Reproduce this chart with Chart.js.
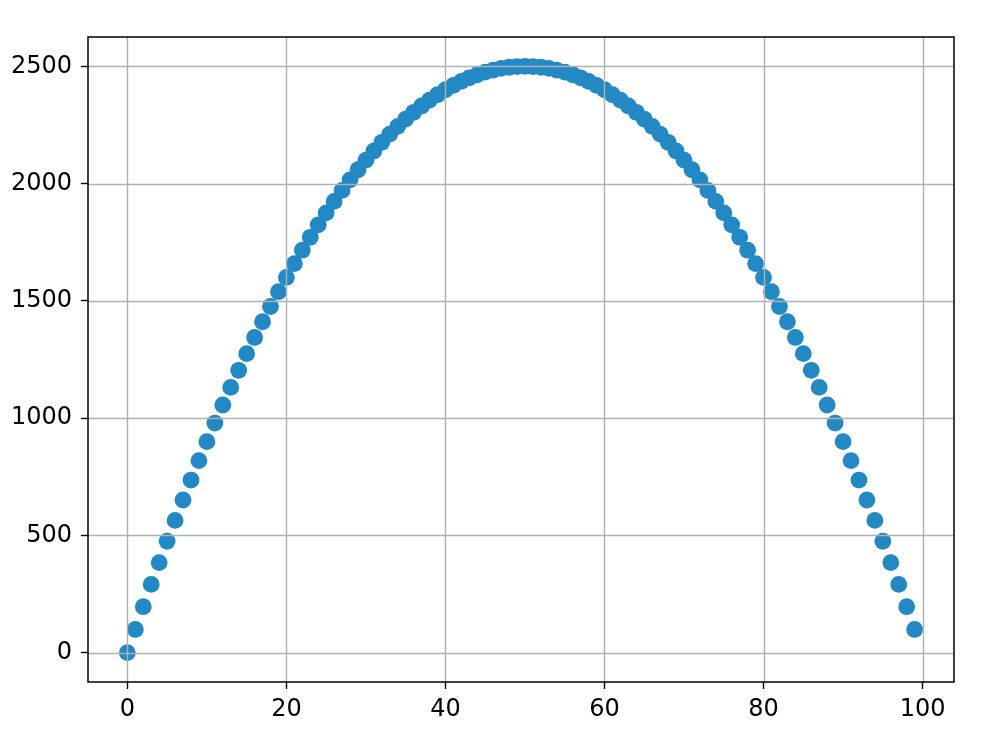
<!DOCTYPE html>
<html>
<head>
<meta charset="utf-8">
<script src="https://cdn.jsdelivr.net/npm/chart.js@4"></script>
<style>
  html, body { margin: 0; padding: 0; background: #fff; }
  #wrap { width: 1000px; height: 752px; }
</style>
</head>
<body>
<div id="wrap"><canvas id="scatterChart"></canvas></div>
<script>
// x positions of the points
const xValues = [
  0, 1, 2, 3, 4, 5, 6, 7, 8, 9, 10, 11, 12, 13, 14, 15, 16, 17, 18, 19,
  20, 21, 22, 23, 24, 25, 26, 27, 28, 29, 30, 31, 32, 33, 34, 35, 36, 37, 38, 39,
  40, 41, 42, 43, 44, 45, 46, 47, 48, 49, 50, 51, 52, 53, 54, 55, 56, 57, 58, 59,
  60, 61, 62, 63, 64, 65, 66, 67, 68, 69, 70, 71, 72, 73, 74, 75, 76, 77, 78, 79,
  80, 81, 82, 83, 84, 85, 86, 87, 88, 89, 90, 91, 92, 93, 94, 95, 96, 97, 98, 99
];

// y values
const yValues = [
  0, 99, 196, 291, 384, 475, 564, 651, 736, 819,
  900, 979, 1056, 1131, 1204, 1275, 1344, 1411, 1476, 1539,
  1600, 1659, 1716, 1771, 1824, 1875, 1924, 1971, 2016, 2059,
  2100, 2139, 2176, 2211, 2244, 2275, 2304, 2331, 2356, 2379,
  2400, 2419, 2436, 2451, 2464, 2475, 2484, 2491, 2496, 2499,
  2500, 2499, 2496, 2491, 2484, 2475, 2464, 2451, 2436, 2419,
  2400, 2379, 2356, 2331, 2304, 2275, 2244, 2211, 2176, 2139,
  2100, 2059, 2016, 1971, 1924, 1875, 1824, 1771, 1716, 1659,
  1600, 1539, 1476, 1411, 1344, 1275, 1204, 1131, 1056, 979,
  900, 819, 736, 651, 564, 475, 384, 291, 196, 99
];

const xTicks = [0, 20, 40, 60, 80, 100];
const yTicks = [0, 500, 1000, 1500, 2000, 2500];

const points = xValues.map((x, i) => ({ x: x, y: yValues[i] }));

// matplotlib draws the grid on top of the markers, so draw it after the datasets
const gridOnTop = {
  id: "gridOnTop",
  afterDatasetsDraw(chart) {
    const ctx = chart.ctx;
    const area = chart.chartArea;
    const xs = chart.scales.x;
    const ys = chart.scales.y;
    ctx.save();
    ctx.strokeStyle = "#b0b0b0";
    ctx.lineWidth = 1.4;
    ctx.beginPath();
    xs.ticks.forEach((t) => {
      const px = Math.round(xs.getPixelForValue(t.value)) + 0.5;
      ctx.moveTo(px, area.top);
      ctx.lineTo(px, area.bottom);
    });
    ys.ticks.forEach((t) => {
      const py = Math.round(ys.getPixelForValue(t.value)) + 0.5;
      ctx.moveTo(area.left, py);
      ctx.lineTo(area.right, py);
    });
    ctx.stroke();
    // frame round the plot
    ctx.strokeStyle = "#000";
    ctx.lineWidth = 1.5;
    ctx.strokeRect(area.left, area.top, area.right - area.left, area.bottom - area.top);
    ctx.restore();
  },
};

const tickFont = { family: "'DejaVu Sans', sans-serif", size: 24 };

new Chart(document.querySelector("#scatterChart"), {
  type: "scatter",
  data: {
    datasets: [
      {
        data: points,
        backgroundColor: "rgb(35, 137, 196)",
        borderWidth: 0,
        pointRadius: 8.4,
        pointHoverRadius: 8.4,
      },
    ],
  },
  options: {
    responsive: true,
    maintainAspectRatio: false,
    animation: false,
    layout: { padding: { top: 37, right: 46, left: 0, bottom: 0 } },
    plugins: { legend: { display: false }, tooltip: { enabled: false } },
    scales: {
      x: {
        type: "linear",
        min: -4.95,
        max: 103.95,
        afterBuildTicks: (scale) => {
          scale.ticks = xTicks.map((v) => ({ value: v }));
        },
        afterFit: (scale) => {
          scale.height = 70;
        },
        grid: {
          drawOnChartArea: false,
          tickLength: 7,
          tickColor: "#000",
          tickWidth: 1.4,
        },
        border: { display: false },
        ticks: {
          color: "#000",
          font: tickFont,
          padding: 6,
          maxRotation: 0,
          callback: (v) => String(v),
        },
      },
      y: {
        type: "linear",
        min: -125,
        max: 2625,
        afterBuildTicks: (scale) => {
          scale.ticks = yTicks.map((v) => ({ value: v }));
        },
        afterFit: (scale) => {
          scale.width = 88;
        },
        grid: {
          drawOnChartArea: false,
          tickLength: 7,
          tickColor: "#000",
          tickWidth: 1.4,
        },
        border: { display: false },
        ticks: {
          color: "#000",
          font: tickFont,
          padding: 9,
          callback: (v) => String(v),
        },
      },
    },
  },
  plugins: [gridOnTop],
});
</script>
</body>
</html>
